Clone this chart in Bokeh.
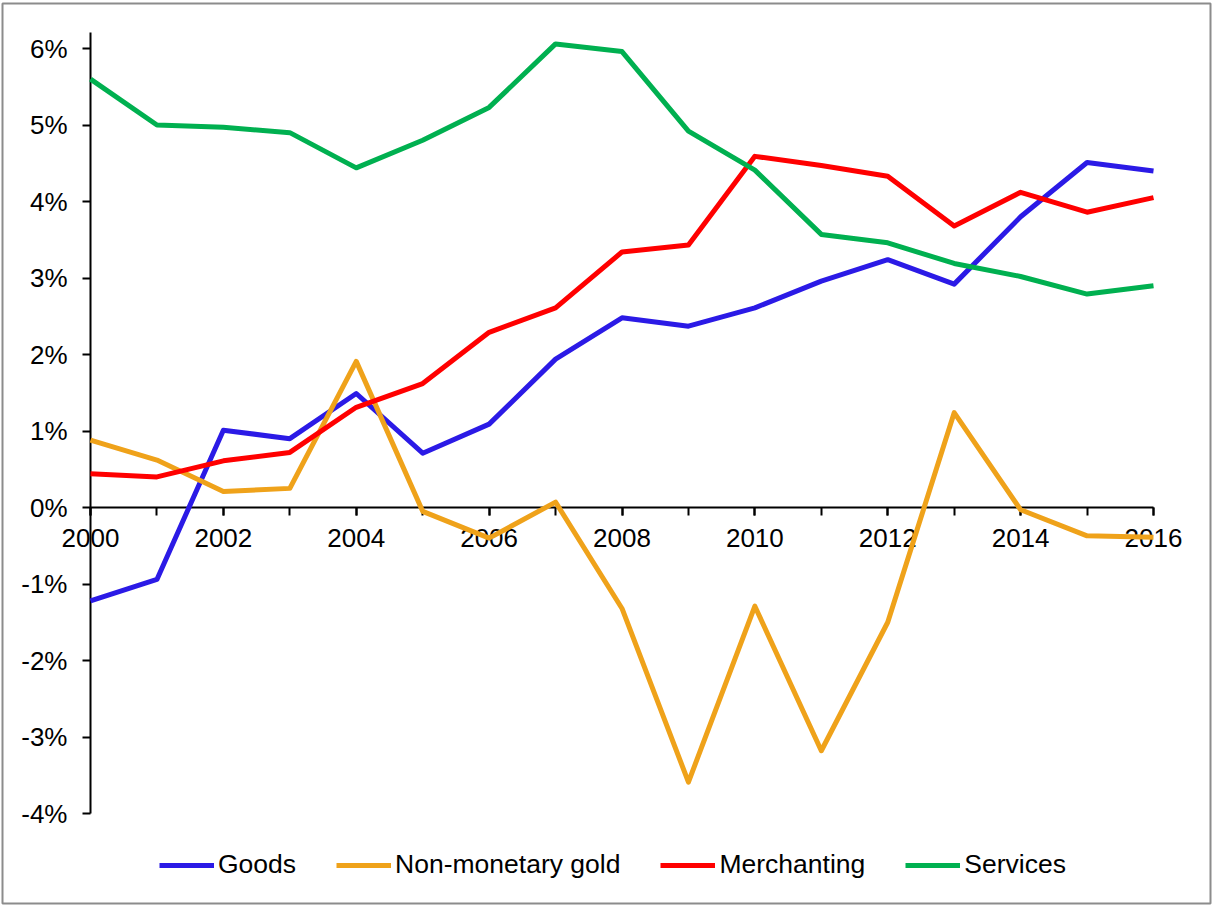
from bokeh.plotting import figure
from bokeh.models import Range1d, LinearAxis, FixedTicker, PrintfTickFormatter, Legend, LegendItem
from bokeh.embed import file_html
from bokeh.resources import INLINE

years = list(range(2000, 2017))
goods = [-1.22, -0.94, 1.01, 0.90, 1.49, 0.71, 1.09, 1.94, 2.48, 2.37, 2.61, 2.96, 3.24, 2.92, 3.80, 4.51, 4.40]
gold = [0.88, 0.62, 0.21, 0.25, 1.91, -0.05, -0.40, 0.07, -1.32, -3.59, -1.29, -3.18, -1.50, 1.24, -0.03, -0.37, -0.39]
merchanting = [0.44, 0.40, 0.61, 0.72, 1.31, 1.62, 2.29, 2.61, 3.34, 3.43, 4.59, 4.47, 4.33, 3.68, 4.12, 3.86, 4.05]
services = [5.60, 5.00, 4.97, 4.90, 4.44, 4.80, 5.23, 6.06, 5.96, 4.92, 4.41, 3.57, 3.46, 3.19, 3.02, 2.79, 2.90]
series_names = ["Goods", "Non-monetary gold", "Merchanting", "Services"]
series_colors = ["#2B1AE6", "#EFA21A", "#FF0000", "#00B050"]
y_ticks = [-4, -3, -2, -1, 0, 1, 2, 3, 4, 5, 6]
x_label_years = [2000, 2002, 2004, 2006, 2008, 2010, 2012, 2014, 2016]

W, H = 1212, 905
B_L, B_R, B_T, B_B = 2, 2, 3, 2
px_per_year = (1153 - 90) / 16
px_per_pct = 76.5
x_start = 2000 - (90 - B_L) / px_per_year
x_end = 2016 + ((W - B_R) - 1153) / px_per_year
y_end = (507 - B_T) / px_per_pct
y_start = -((H - B_B) - 507) / px_per_pct

FONT = "Liberation Sans"

p = figure(width=W, height=H, x_range=Range1d(x_start, x_end), y_range=Range1d(y_start, y_end),
           output_backend="svg", toolbar_location=None, x_axis_location=None, y_axis_location=None,
           min_border_left=B_L, min_border_right=B_R, min_border_top=B_T, min_border_bottom=B_B)
p.outline_line_color = "#8c8c8c"
p.outline_line_width = 2
p.background_fill_color = "white"
p.border_fill_color = "white"

xaxis = LinearAxis(fixed_location=0, bounds=(2000, 2016),
                   ticker=FixedTicker(ticks=x_label_years, minor_ticks=years))
xaxis.axis_line_width = 2
xaxis.axis_line_color = "black"
xaxis.major_tick_line_width = 2
xaxis.minor_tick_line_width = 2
xaxis.major_tick_in = 0
xaxis.major_tick_out = 8
xaxis.minor_tick_in = 0
xaxis.minor_tick_out = 8
xaxis.major_label_standoff = 13
xaxis.major_label_text_font = FONT
xaxis.major_label_text_font_size = "26px"
xaxis.major_label_text_color = "black"
xaxis.level = "underlay"
p.add_layout(xaxis, "below")

yaxis = LinearAxis(fixed_location=2000, bounds=(-4, 6.21),
                   ticker=FixedTicker(ticks=y_ticks, minor_ticks=[]),
                   formatter=PrintfTickFormatter(format="%d%%"))
yaxis.axis_line_width = 2
yaxis.axis_line_color = "black"
yaxis.major_tick_line_width = 2
yaxis.major_tick_in = 0
yaxis.major_tick_out = 8
yaxis.minor_tick_line_color = None
yaxis.major_label_standoff = 15
yaxis.major_label_text_font = FONT
yaxis.major_label_text_font_size = "26px"
yaxis.major_label_text_color = "black"
yaxis.level = "underlay"
p.add_layout(yaxis, "left")

p.xgrid.grid_line_color = None
p.ygrid.grid_line_color = None
p.grid.visible = False

renderers = []
for vals, col in zip([goods, gold, merchanting, services], series_colors):
    r = p.line(years, vals, line_width=5, line_color=col, line_join="round")
    renderers.append(r)

legend = Legend(items=[LegendItem(label=n, renderers=[r]) for n, r in zip(series_names, renderers)],
                orientation="horizontal", location=(157, 23))
legend.glyph_width = 55
legend.glyph_height = 20
legend.label_standoff = 4
legend.spacing = 40
legend.padding = 0
legend.margin = 0
legend.border_line_alpha = 0
legend.background_fill_alpha = 0
legend.label_text_font = FONT
legend.label_text_font_size = "26.5px"
legend.label_text_color = "black"
p.add_layout(legend)

open("out.html", "w").write(file_html(p, INLINE))
